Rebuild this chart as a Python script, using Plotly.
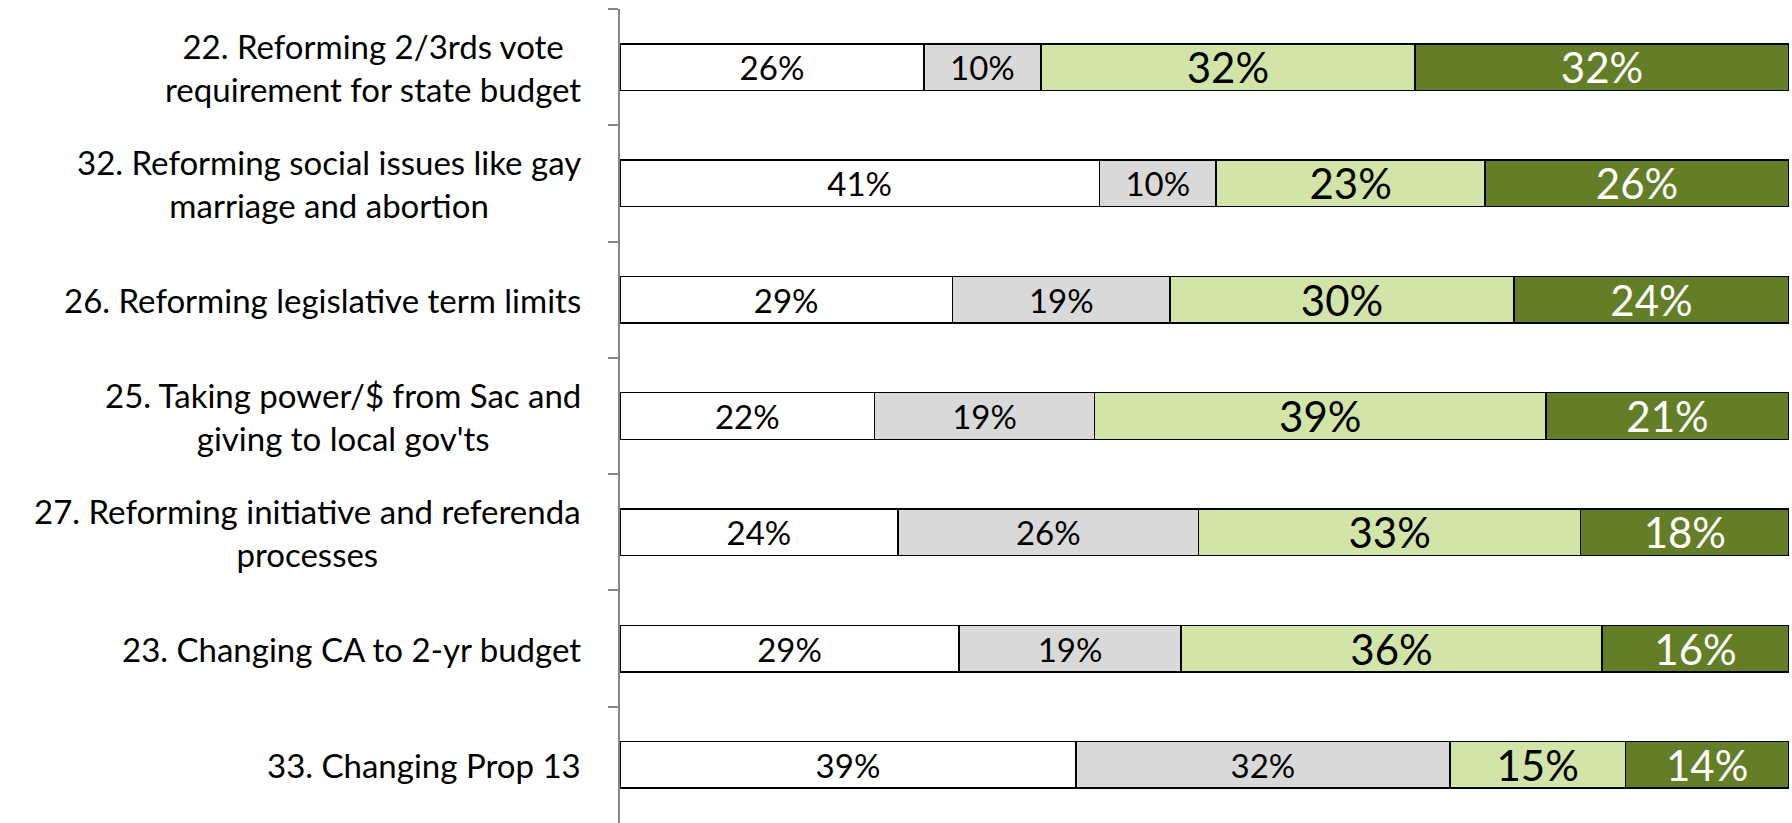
import plotly.graph_objects as go

categories = [
    "22. Reforming 2/3rds vote<br>requirement for state budget",
    "32. Reforming social issues like gay<br>marriage and abortion",
    "26. Reforming legislative term limits",
    "25. Taking power/$ from Sac and<br>giving to local gov'ts",
    "27. Reforming initiative and referenda<br>processes",
    "23. Changing CA to 2-yr budget",
    "33. Changing Prop 13",
]

series_names = ["Series 1", "Series 2", "Series 3", "Series 4"]
s1 = [26, 41, 29, 22, 24, 29, 39]
s2 = [10, 10, 19, 19, 26, 19, 32]
s3 = [32, 23, 30, 39, 33, 36, 15]
s4 = [32, 26, 24, 21, 18, 16, 14]

colors = ["#FFFFFF", "#D9D9D9", "#D2E4A8", "#637E27"]
text_colors = ["#000000", "#000000", "#000000", "#FFFFFF"]
text_sizes = [33, 33, 42, 42]

FONT = "Lato, 'Open Sans', sans-serif"

fig = go.Figure()
for name, vals, col, tcol, tsz in zip(series_names, [s1, s2, s3, s4], colors, text_colors, text_sizes):
    fig.add_trace(go.Bar(
        name=name,
        y=categories,
        x=vals,
        orientation="h",
        marker=dict(color=col, line=dict(color="#000000", width=1.5)),
        text=[f"{v}%" for v in vals],
        textposition="inside",
        insidetextanchor="middle",
        textangle=0,
        constraintext="none",
        textfont=dict(family=FONT, size=tsz, color=tcol),
        showlegend=False,
        hoverinfo="skip",
    ))

for cat in categories:
    fig.add_annotation(
        xref="paper", yref="y", x=0, y=cat,
        xanchor="right", yanchor="middle", xshift=-37,
        text=cat, showarrow=False, align="center",
        font=dict(family=FONT, size=33, color="#000000"),
    )

fig.update_layout(
    width=1792, height=823,
    barmode="stack", barnorm="percent", bargap=0.6,
    margin=dict(l=620, r=3, t=9, b=0),
    plot_bgcolor="#FFFFFF", paper_bgcolor="#FFFFFF",
    font=dict(family=FONT, color="#000000"),
)
fig.update_xaxes(visible=False, range=[0, 100], fixedrange=True)
fig.update_yaxes(
    autorange="reversed", showticklabels=False,
    showline=True, linecolor="#868686", linewidth=1.5,
    ticks="outside", tickson="boundaries", ticklen=10,
    tickcolor="#868686", tickwidth=1.5, showgrid=False,
)

fig.write_html("out.html", config={"displayModeBar": False},
               post_script="document.body.style.margin='0';")
